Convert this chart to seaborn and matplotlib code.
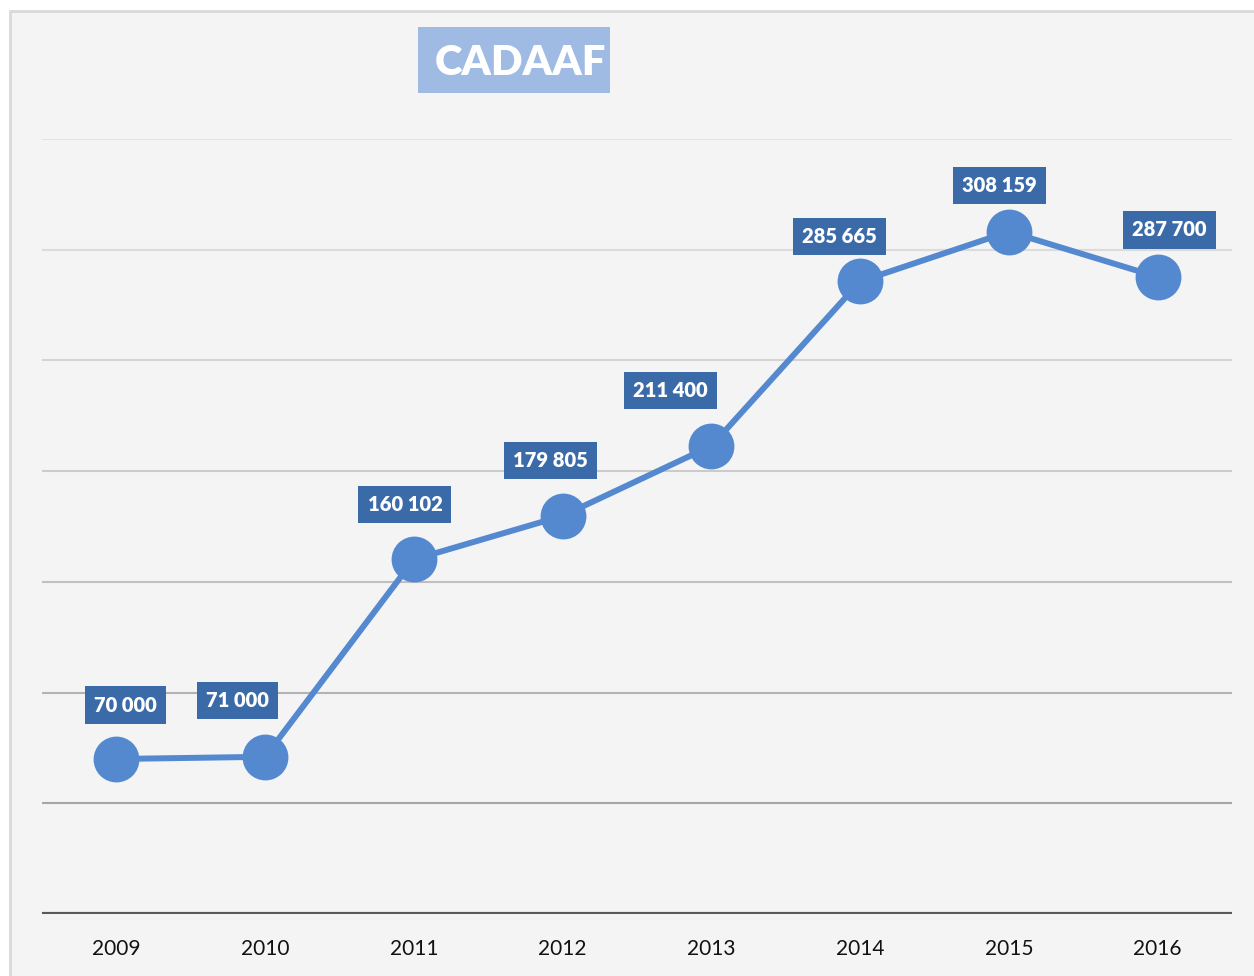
import matplotlib
matplotlib.use("Agg")
import matplotlib.pyplot as plt
import matplotlib.patches as patches
import pandas as pd
import seaborn as sns

years = [2009, 2010, 2011, 2012, 2013, 2014, 2015, 2016]
values = [70000, 71000, 160102, 179805, 211400, 285665, 308159, 287700]
title = "CADAAF"

# decalage des etiquettes (pixels) par rapport aux points
label_dx = [9, -28, -9, -12, -41, -21, -9, 12]
label_dy = [54, 56, 55, 55, 55, 45, 46, 47]

grid_levels = [50000, 100000, 150000, 200000, 250000, 300000, 350000]
grid_colors = ["#a6a6a6", "#b3b3b3", "#c0c0c0", "#cbcbcb", "#d4d4d4", "#dbdbdb", "#e3e3e3"]

df = pd.DataFrame({"year": years, "value": values})

sns.set_style("white")
plt.rcParams["font.family"] = ["Lato", "DejaVu Sans"]

fig = plt.figure(figsize=(12.54, 9.76), dpi=100)
fig.patch.set_facecolor("white")

# fond du panneau
W, H = 1254, 976
fig.patches.append(patches.Rectangle((10 / W, -0.1), 1.2, 1.1 - 11 / H,
                                     transform=fig.transFigure, facecolor="#f4f4f4",
                                     edgecolor="#d9d9d9", linewidth=2, zorder=-5))

ax = fig.add_axes([42 / W, 1 - 914 / H, (1232 - 42) / W, (914 - 139) / H])
ax.set_facecolor("none")
ax.set_zorder(3)

for lvl, col in zip(grid_levels, grid_colors):
    ax.axhline(lvl, color=col, linewidth=1.5, zorder=1)
ax.axhline(0, color="#595959", linewidth=3, zorder=1)

sns.lineplot(data=df, x="year", y="value", ax=ax, color="#5589cf", linewidth=4.3,
             marker="o", markersize=33, markeredgewidth=0, zorder=3)

for yr, v, dx, dy in zip(years, values, label_dx, label_dy):
    txt = f"{v:,}".replace(",", " ")
    ax.annotate(txt, (yr, v), xytext=(dx, dy), textcoords="offset pixels",
                ha="center", va="center", color="white", fontsize=14.5, fontweight="heavy",
                bbox=dict(boxstyle="square,pad=0.45", facecolor="#3b6aa8", edgecolor="none"),
                zorder=4)

ax.set_xlim(2008.5, 2016.5)
ax.set_ylim(0, 350000)
ax.set_xticks(years)
ax.set_xticklabels([str(y) for y in years], fontsize=15, color="#111111")
ax.set_yticks([])
ax.tick_params(axis="x", length=0, pad=18)
ax.set_xlabel("")
ax.set_ylabel("")
for s in ax.spines.values():
    s.set_visible(False)

# titre dans sa boite
fig.patches.append(patches.Rectangle((418 / W, 1 - 93 / H), 192 / W, 66 / H,
                                     transform=fig.transFigure, facecolor="#9fbbe3",
                                     edgecolor="none", zorder=1))
fig.text(520 / W, 1 - 63 / H, title, ha="center", va="center", color="white",
         fontsize=30, fontweight="heavy", zorder=2)

plt.savefig("out.png", dpi=100)
plt.close()
